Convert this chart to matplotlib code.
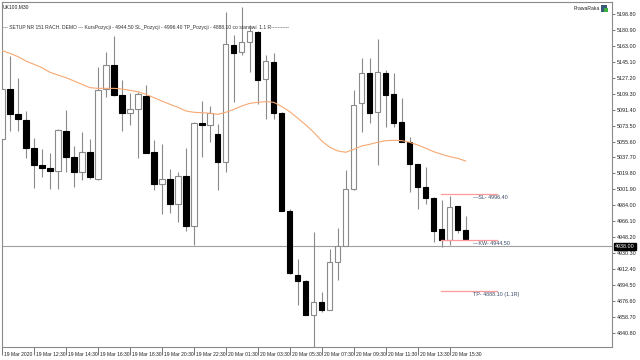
import matplotlib
matplotlib.use("Agg")
import matplotlib.pyplot as plt
from matplotlib.patches import Rectangle

plt.rcParams['font.family'] = ['Liberation Sans', 'DejaVu Sans']

symbol = "UK100,M30"
watermark = "PrawaRaka"
header = ("--- SETUP NR 151 RACH. DEMO --- KursPozycji - 4944.50 SL_Pozycji - 4996.40 "
          "TP_Pozycji - 4888.10 co stanowi  1.1 R-----------")

opens = [5058.1, 5114.6, 5086.1, 5079.8, 5048.3, 5029.2, 5026.3, 5022.5, 5067.8, 5038.6,
         5021.4, 5043.5, 5013.5, 5114.6, 5141.5, 5107.9, 5087.3, 5091.8, 5107.1, 5043.5,
         5007.9, 5013.9, 4985.5, 5016.9, 4960.8, 5076.0, 5074.2, 5064.4, 5033.0, 5164.4,
         5156.5, 5167.4, 5179.0, 5125.4, 5145.3, 5088.0, 4978.0, 4905.7, 4899.4, 4861.2,
         4875.8, 4866.4, 4920.7, 4938.3, 5001.9, 5098.5, 5132.2, 5089.1, 5132.2, 5108.6,
         5077.2, 5055.4, 5030.4, 5004.2, 4991.8, 4957.4, 4945.0, 4982.8, 4956.3]
highs = [5115.3, 5151.6, 5126.6, 5089.9, 5059.9, 5047.2, 5042.3, 5069.7, 5091.0, 5050.6,
         5065.9, 5058.4, 5139.7, 5155.8, 5174.5, 5125.1, 5110.1, 5111.6, 5119.1, 5056.9,
         5053.2, 5024.8, 5021.4, 5048.0, 5077.9, 5101.1, 5095.9, 5075.7, 5201.1, 5175.0,
         5206.7, 5186.4, 5179.7, 5152.8, 5154.6, 5088.3, 4979.8, 4923.3, 4899.6, 4954.4,
         4887.0, 4934.6, 4958.9, 5023.6, 5113.5, 5149.8, 5149.8, 5170.4, 5135.9, 5132.2,
         5104.9, 5061.1, 5030.7, 5027.4, 4992.9, 4989.9, 4994.4, 4983.1, 4971.6]
lows = [5057.3, 5067.4, 5067.4, 5036.7, 5003.0, 5016.1, 5002.3, 5002.3, 5021.8, 5004.9,
        5012.0, 5013.5, 5012.8, 5105.2, 5107.1, 5067.4, 5074.2, 5036.7, 5042.8, 5001.2,
        4973.9, 4975.0, 4965.6, 4955.1, 4939.4, 5037.9, 5054.7, 5001.2, 5021.8, 5099.6,
        5152.8, 5134.1, 5097.4, 5080.5, 5080.5, 4977.7, 4907.3, 4872.0, 4860.9, 4825.3,
        4864.6, 4866.1, 4900.1, 4938.0, 5001.6, 5066.7, 5076.0, 5029.2, 5072.3, 5072.3,
        5055.1, 4999.3, 4979.5, 4985.5, 4943.2, 4937.5, 4939.4, 4952.5, 4945.0]
closes = [5114.6, 5086.1, 5080.5, 5048.3, 5029.2, 5026.3, 5022.9, 5068.2, 5038.6, 5021.8,
          5043.5, 5015.4, 5113.1, 5141.5, 5107.9, 5088.0, 5091.8, 5109.0, 5043.1, 5007.9,
          5013.9, 4985.5, 5016.5, 4960.8, 5076.4, 5074.5, 5087.3, 5033.0, 5165.1, 5155.0,
          5167.4, 5180.1, 5124.7, 5146.0, 5087.3, 4978.0, 4907.6, 4899.4, 4861.2, 4875.4,
          4866.4, 4920.7, 4938.3, 5001.9, 5096.6, 5132.2, 5088.0, 5133.3, 5107.9, 5076.0,
          5055.4, 5030.4, 5004.9, 4991.8, 4955.5, 4945.0, 4982.5, 4956.3, 4946.2]
ma_values = [5157.6, 5154.6, 5150.9, 5146.0, 5142.3, 5138.5, 5133.3, 5130.3, 5127.3, 5123.6,
             5119.8, 5116.1, 5115.3, 5115.3, 5115.3, 5114.6, 5113.1, 5111.6, 5108.6, 5104.9,
             5101.1, 5097.4, 5094.0, 5089.9, 5088.4, 5088.0, 5087.3, 5086.1, 5088.4, 5091.8,
             5095.5, 5098.5, 5099.6, 5100.4, 5099.6, 5094.8, 5089.1, 5081.7, 5074.2, 5065.9,
             5056.2, 5049.1, 5045.0, 5043.5, 5046.8, 5050.6, 5052.5, 5054.7, 5056.6, 5056.9,
             5056.6, 5054.7, 5051.7, 5048.0, 5044.2, 5041.2, 5038.6, 5036.7, 5033.7]

x_label_idx = [0, 4, 8, 12, 16, 20, 24, 28, 32, 36, 40, 44, 48, 52, 56]
x_labels = ["19 Mar 2020", "19 Mar 12:30", "19 Mar 14:30", "19 Mar 16:30", "19 Mar 18:30",
            "19 Mar 20:30", "19 Mar 22:30", "20 Mar 01:30", "20 Mar 03:30", "20 Mar 05:30",
            "20 Mar 07:30", "20 Mar 09:30", "20 Mar 11:30", "20 Mar 13:30", "20 Mar 15:30"]
y_ticks = [5198.80, 5180.90, 5163.00, 5145.10, 5127.20, 5109.30, 5091.40, 5073.50, 5055.60,
           5037.70, 5019.80, 5001.90, 4984.00, 4966.10, 4948.20, 4930.30, 4912.40, 4894.50,
           4876.60, 4858.70, 4840.80]

sl_price = 4996.40
kw_price = 4944.50
tp_price = 4888.10
bid_price = 4938.00
level_labels = ["\u2014SL- 4996.40", "\u2014KW- 4944.50", "TP- 4888.10 (1.1R)"]

FS = 3.6
FSY = 3.9
GRAY = "#8a8a8a"

fig = plt.figure(figsize=(6.4, 3.6), dpi=100)
ax = fig.add_axes([2 / 640, 13 / 360, 610 / 640, 345 / 360])
ax.set_xlim(0, 76.3)
ax.set_ylim(4824.8, 5212.3)

# candles
w = 0.66
for i, (o, h, l, c) in enumerate(zip(opens, highs, lows, closes)):
    ax.plot([i, i], [l, h], color=GRAY, lw=0.8, zorder=2, solid_capstyle='butt')
    bottom = min(o, c)
    height = max(abs(c - o), 0.6)
    if c >= o:
        ax.add_patch(Rectangle((i - w / 2, bottom), w, height, facecolor='white',
                               edgecolor=GRAY, lw=0.8, zorder=3))
    else:
        ax.add_patch(Rectangle((i - w / 2, bottom), w, height, facecolor='black',
                               edgecolor='black', lw=0.8, zorder=3))

# moving average
ax.plot(range(len(ma_values)), ma_values, color='#f6a872', lw=0.8, zorder=4)

# bid line
ax.axhline(bid_price, color='#a0a0a0', lw=0.8, zorder=1)

# SL / KW / TP levels
x0, x1 = 54.9, 61.9
for price, lab in zip([sl_price, kw_price, tp_price], level_labels):
    ax.plot([x0, x1], [price, price], color='#ff9a9a', lw=0.9, zorder=5)
    ax.annotate(lab, xy=(58.9, price), xycoords='data', xytext=(0, -3.5),
                textcoords='offset pixels', ha='left', va='center',
                fontsize=FSY, color='#3b4a68', zorder=6)

# axes styling
for s in ax.spines.values():
    s.set_color('#8a8a8a')
    s.set_linewidth(0.8)
ax.yaxis.tick_right()
ax.set_yticks(y_ticks)
ax.set_yticklabels([f"{v:.2f}" for v in y_ticks], fontsize=FSY, color='#202020')
ax.tick_params(axis='y', direction='out', length=2.2, width=0.6, color='#606060', pad=1)
ax.set_xticks(x_label_idx)
ax.set_xticklabels([])
ax.tick_params(axis='x', direction='out', length=6, width=0.6, color='#606060')
for idx, lab in zip(x_label_idx, x_labels):
    ax.annotate(lab, xy=(idx, 0), xycoords=('data', 'axes fraction'), xytext=(2, -7),
                textcoords='offset pixels', ha='left', va='center', fontsize=FS,
                color='#202020', annotation_clip=False)

# bid highlight on axis
ax.annotate(f"{bid_price:.2f}", xy=(1, bid_price), xycoords=('axes fraction', 'data'),
            xytext=(3, 0), textcoords='offset pixels', ha='left', va='center',
            fontsize=FSY, color='white', annotation_clip=False,
            bbox=dict(boxstyle='square,pad=0.15', fc='black', ec='black'))

# texts
ax.text(1 / 610, 1 - 2 / 345, symbol, transform=ax.transAxes, ha='left', va='top',
        fontsize=FS, color='#202020')
ax.text(1 / 610, 1 - 25 / 345, header, transform=ax.transAxes, ha='left', va='center',
        fontsize=FS, color='#303030')
ax.text(1 - 12 / 610, 1 - 4 / 345, watermark, transform=ax.transAxes, ha='right', va='top',
        fontsize=FS, color='#202020')
fig.patches.append(Rectangle((601 / 640, 1 - 12 / 360), 6 / 640, 7 / 360, transform=fig.transFigure,
                             facecolor='#3a5a7a', edgecolor='none'))
fig.patches.append(Rectangle((604 / 640, 1 - 12 / 360), 4 / 640, 4 / 360, transform=fig.transFigure,
                             facecolor='#3cb043', edgecolor='none'))

fig.savefig("out.png", dpi=100, facecolor='white')
